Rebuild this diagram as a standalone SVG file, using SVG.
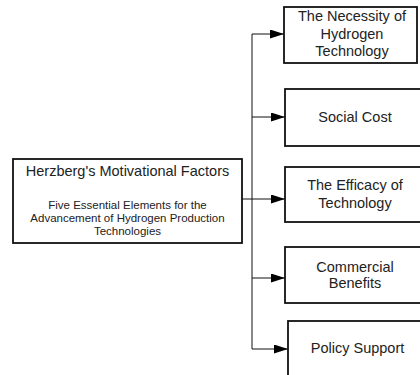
<svg xmlns="http://www.w3.org/2000/svg" width="420" height="375" viewBox="0 0 420 375">
<style>
.box{fill:#fff;stroke:#111;stroke-width:1.8}
.t{font-family:"Liberation Sans",Arial,sans-serif;font-size:14.5px;fill:#222;text-anchor:middle}
.s{font-family:"Liberation Sans",Arial,sans-serif;font-size:11.5px;fill:#222;text-anchor:middle}
.c{fill:none;stroke:#111;stroke-width:1}
</style>
<defs>
<marker id="ah" markerWidth="14" markerHeight="9" refX="14" refY="4.5" orient="auto" markerUnits="userSpaceOnUse">
<path d="M0,0 L14,4.5 L0,9 Z" fill="#000"/>
</marker>
</defs>
<rect width="420" height="375" fill="#fff"/>
<g id="connectors">
<path class="c" d="M242,199 H252"/>
<path class="c" d="M252,34 V349"/>
<path class="c" d="M252,34 H284" marker-end="url(#ah)"/>
<path class="c" d="M252,117 H285" marker-end="url(#ah)"/>
<path class="c" d="M252,199 H285" marker-end="url(#ah)"/>
<path class="c" d="M252,278 H285" marker-end="url(#ah)"/>
<path class="c" d="M252,349 H288" marker-end="url(#ah)"/>
</g>
<g id="main">
<rect class="box" x="13" y="159" width="229" height="84"/>
<text class="t" x="127.5" y="176">Herzberg's Motivational Factors</text>
<text class="s" x="127.5" y="209">Five Essential Elements for the</text>
<text class="s" x="127.5" y="222">Advancement of Hydrogen Production</text>
<text class="s" x="127.5" y="235">Technologies</text>
</g>
<g id="n1">
<rect class="box" x="284" y="7" width="133" height="56"/>
<text class="t" x="352" y="21">The Necessity of</text>
<text class="t" x="352" y="38.5">Hydrogen</text>
<text class="t" x="352" y="56">Technology</text>
</g>
<g id="n2">
<rect class="box" x="285" y="89" width="140" height="57"/>
<text class="t" x="355" y="122">Social Cost</text>
</g>
<g id="n3">
<rect class="box" x="285" y="167" width="140" height="55"/>
<text class="t" x="355" y="190">The Efficacy of</text>
<text class="t" x="355" y="207.5">Technology</text>
</g>
<g id="n4">
<rect class="box" x="285" y="247" width="140" height="56"/>
<text class="t" x="355" y="271.5">Commercial</text>
<text class="t" x="355" y="288">Benefits</text>
</g>
<g id="n5">
<rect class="box" x="288" y="321" width="140" height="60"/>
<text class="t" x="357.5" y="353">Policy Support</text>
</g>
</svg>
